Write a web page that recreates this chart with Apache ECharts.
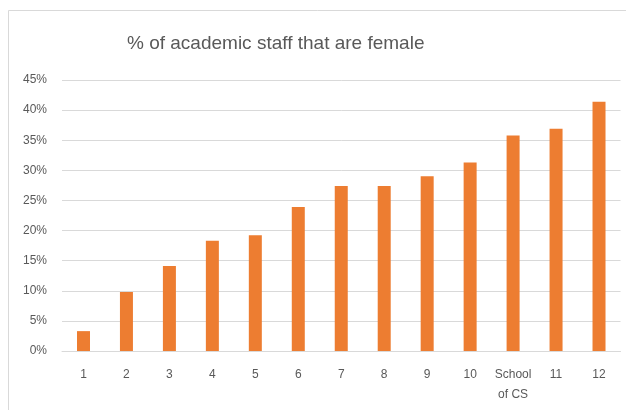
<!DOCTYPE html>
<html>
<head>
<meta charset="utf-8">
<script src="https://cdn.jsdelivr.net/npm/echarts@6/dist/echarts.min.js"></script>
<style>html,body{margin:0;padding:0;background:#fff}#c{width:626px;height:410px}</style>
</head>
<body>
<div id="c"></div>
<script>
const categories = ['1','2','3','4','5','6','7','8','9','10','School\nof CS','11','12'];
const femalePct = [3.3, 9.8, 14.1, 18.3, 19.2, 23.9, 27.4, 27.4, 29.0, 31.3, 35.8, 36.9, 41.4];
const yTicks = { min: 0, max: 45, interval: 5 };

const chart = echarts.init(document.getElementById('c'), null, {renderer: 'canvas'});
chart.setOption({
  animation: false,
  backgroundColor: '#fff',
  graphic: [{
    type: 'rect', shape: {x: 8.5, y: 10.5, width: 640, height: 420},
    style: {fill: 'none', stroke: '#d9d9d9', lineWidth: 1}, silent: true
  }],
  title: {
    text: '% of academic staff that are female',
    left: 122, top: 29,
    textStyle: {fontFamily: 'Liberation Sans', fontSize: 19, fontWeight: 'normal', color: '#595959'}
  },
  grid: {left: 62, right: 5.5, top: 80, bottom: 59, containLabel: false},
  xAxis: {
    type: 'category', data: categories,
    axisLine: {lineStyle: {color: '#d9d9d9'}},
    axisTick: {show: false},
    axisLabel: {color: '#595959', fontFamily: 'Liberation Sans', fontSize: 12, margin: 14, lineHeight: 20, interval: 0}
  },
  yAxis: {
    type: 'value', min: yTicks.min, max: yTicks.max, interval: yTicks.interval,
    axisLine: {show: false}, axisTick: {show: false},
    splitLine: {lineStyle: {color: '#d9d9d9'}},
    axisLabel: {color: '#595959', fontFamily: 'Liberation Sans', fontSize: 12, margin: 15, formatter: '{value}%'}
  },
  series: [{
    type: 'bar', data: femalePct, barWidth: 13,
    itemStyle: {color: '#ED7D31'}
  }]
});
</script>
</body>
</html>
